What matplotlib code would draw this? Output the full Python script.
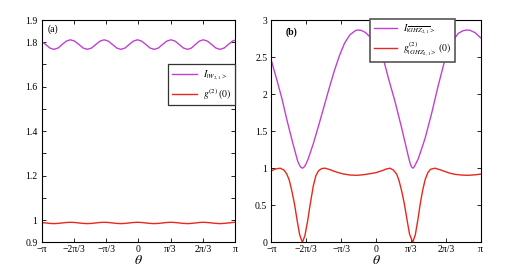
import numpy as np
import matplotlib
matplotlib.use("Agg")
import matplotlib.pyplot as plt

plt.rcParams['font.family'] = ['Liberation Serif', 'DejaVu Serif']
plt.rcParams['mathtext.fontset'] = 'stix'

# ---------------- data (theta in units of pi) ----------------
theta_a = [-1.0, -0.959, -0.916, -0.873, -0.8305, -0.788, -0.7455, -0.703,
           -0.659, -0.615, -0.571, -0.527, -0.484, -0.4405, -0.397, -0.354,
           -0.311, -0.2675, -0.224, -0.181, -0.138, -0.095, -0.052, -0.009,
           0.034, 0.0775, 0.121, 0.164, 0.207, 0.2505, 0.294, 0.337,
           0.38, 0.423, 0.466, 0.509, 0.5495, 0.59, 0.6305, 0.671,
           0.7145, 0.758, 0.8015, 0.845, 0.888, 0.931, 0.974, 1.0]
I_W = [1.803, 1.790, 1.774, 1.768, 1.774, 1.790, 1.805, 1.811,
       1.805, 1.790, 1.774, 1.768, 1.774, 1.790, 1.805, 1.811,
       1.805, 1.790, 1.774, 1.768, 1.774, 1.790, 1.805, 1.811,
       1.805, 1.790, 1.774, 1.768, 1.774, 1.790, 1.805, 1.811,
       1.805, 1.790, 1.774, 1.768, 1.774, 1.790, 1.805, 1.811,
       1.805, 1.790, 1.774, 1.768, 1.774, 1.790, 1.805, 1.809]
g2_W = [0.989, 0.987, 0.985, 0.984, 0.985, 0.987, 0.989, 0.990,
        0.989, 0.987, 0.985, 0.984, 0.985, 0.987, 0.989, 0.990,
        0.989, 0.987, 0.985, 0.984, 0.985, 0.987, 0.989, 0.990,
        0.989, 0.987, 0.985, 0.984, 0.985, 0.987, 0.989, 0.990,
        0.989, 0.987, 0.985, 0.984, 0.985, 0.987, 0.989, 0.990,
        0.989, 0.987, 0.985, 0.984, 0.985, 0.987, 0.989, 0.990]

theta_bI = [-1.0, -0.95, -0.90, -0.85, -0.80, -0.75, -0.735, -0.72, -0.704,
            -0.688, -0.672, -0.65, -0.60, -0.55, -0.50, -0.45, -0.40, -0.35,
            -0.30, -0.25, -0.20, -0.178, -0.14, -0.10, -0.05, 0.0, 0.038,
            0.08, 0.117, 0.181, 0.245, 0.31, 0.325, 0.338, 0.352, 0.366,
            0.38, 0.404, 0.468, 0.531, 0.595, 0.659, 0.722, 0.786, 0.83,
            0.866, 0.90, 0.945, 1.0]
I_GHZ = [2.45, 2.20, 1.94, 1.64, 1.36, 1.10, 1.05, 1.015, 1.00,
         1.015, 1.05, 1.12, 1.33, 1.57, 1.82, 2.07, 2.31, 2.52,
         2.69, 2.80, 2.855, 2.865, 2.86, 2.83, 2.76, 2.68, 2.60,
         2.42, 2.22, 1.90, 1.54, 1.15, 1.07, 1.02, 1.00, 1.02,
         1.06, 1.13, 1.40, 1.74, 2.12, 2.47, 2.70, 2.82, 2.855,
         2.865, 2.86, 2.83, 2.76]

theta_bg = [-1.0, -0.96, -0.917, -0.88, -0.853, -0.83, -0.806, -0.78, -0.755,
            -0.73, -0.704, -0.68, -0.655, -0.631, -0.60, -0.575, -0.55, -0.52,
            -0.487, -0.45, -0.408, -0.36, -0.312, -0.25, -0.185, -0.12, -0.057,
            0.0, 0.054, 0.10, 0.133, 0.165, 0.197, 0.22, 0.245, 0.27, 0.295,
            0.32, 0.35, 0.375, 0.40, 0.42, 0.445, 0.47, 0.495, 0.52, 0.563,
            0.61, 0.659, 0.70, 0.754, 0.82, 0.882, 0.94, 1.0]
g2_GHZ = [0.965, 0.99, 1.0, 0.975, 0.92, 0.84, 0.70, 0.52, 0.30,
          0.10, 0.0, 0.09, 0.28, 0.50, 0.76, 0.90, 0.965, 0.995,
          1.0, 0.985, 0.962, 0.94, 0.922, 0.908, 0.904, 0.912, 0.926,
          0.94, 0.965, 0.99, 1.0, 0.975, 0.92, 0.83, 0.69, 0.52, 0.31,
          0.11, 0.0, 0.10, 0.31, 0.50, 0.70, 0.85, 0.94, 0.985, 1.0,
          0.98, 0.955, 0.935, 0.917, 0.907, 0.904, 0.91, 0.92]

xtick_vals = [-1, -2/3, -1/3, 0, 1/3, 2/3, 1]
xtick_labels = ['\u2212\u03c0', '\u22122\u03c0/3', '\u2212\u03c0/3', '0',
                '\u03c0/3', '2\u03c0/3', '\u03c0']

ya_ticks = [0.9, 1.0, 1.1, 1.2, 1.3, 1.4, 1.5, 1.6, 1.7, 1.8, 1.9]
ya_labels = ['0.9', '1', '', '1.2', '', '1.4', '', '1.6', '', '1.8', '1.9']
yb_ticks = [0, 0.5, 1, 1.5, 2, 2.5, 3]
yb_labels = ['0', '0.5', '1', '1.5', '2', '2.5', '3']

purple = '#c041d0'
red = '#e8281c'

fig = plt.figure(figsize=(5.18, 2.73), dpi=100)
axa = fig.add_axes([0.0805, 0.1125, 0.3732, 0.8142])
axb = fig.add_axes([0.524, 0.1125, 0.404, 0.8142])

def style(ax):
    ax.set_xlim(-1, 1)
    ax.set_xticks(xtick_vals)
    ax.set_xticklabels(xtick_labels)
    ax.tick_params(direction='in', top=True, right=True, length=3, width=0.6,
                   labelsize=7)
    ax.tick_params(axis='x', pad=2)
    ax.tick_params(axis='y', pad=3)
    for s in ax.spines.values():
        s.set_linewidth(0.8)
    ax.set_xlabel(r'$\theta$', fontsize=10, labelpad=0)

style(axa)
axa.plot(theta_a, I_W, color=purple, lw=1.0, label=r'$I_{|W_{2,1}>}$')
axa.plot(theta_a, g2_W, color=red, lw=1.0, label=r'$g^{(2)}\,(0)$')
axa.set_ylim(0.9, 1.9)
axa.set_yticks(ya_ticks)
axa.set_yticklabels(ya_labels)
axa.text(0.033, 0.96, '(a)', transform=axa.transAxes, fontsize=7, va='center')
leg = axa.legend(loc='upper right', bbox_to_anchor=(1.0, 0.80), borderaxespad=0,
                 fontsize=7, fancybox=False, framealpha=1, edgecolor='#333333',
                 handlelength=2.6, handletextpad=0.6, borderpad=0.4,
                 labelspacing=0.4)
leg.get_frame().set_linewidth(0.9)

style(axb)
axb.plot(theta_bI, I_GHZ, color=purple, lw=1.0,
         label=r'$I_{|\overline{GHZ_{2,1}}>}$')
axb.plot(theta_bg, g2_GHZ, color=red, lw=1.0,
         label=r'$g^{(2)}_{|GHZ_{2,1}>}\,(0)$')
axb.set_ylim(0, 3)
axb.set_yticks(yb_ticks)
axb.set_yticklabels(yb_labels)
axb.text(0.07, 0.946, '(b)', transform=axb.transAxes, fontsize=7,
         fontweight='bold', va='center')
leg = axb.legend(loc='upper right', bbox_to_anchor=(0.879, 1.006), borderaxespad=0,
                 fontsize=7, fancybox=False, framealpha=1, edgecolor='#555555',
                 handlelength=2.4, handletextpad=0.6, borderpad=0.4,
                 labelspacing=0.4)
leg.get_frame().set_linewidth(1.2)

fig.savefig('out.png', dpi=100)
